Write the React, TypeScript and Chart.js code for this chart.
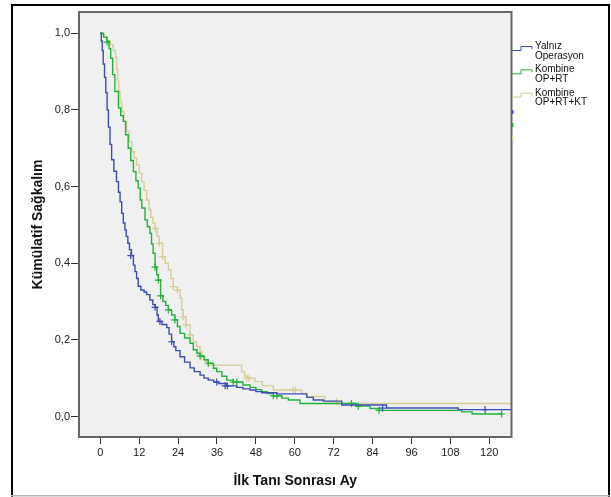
import React, { useEffect, useRef } from 'react';
import { Chart, registerables } from 'chart.js';

Chart.register(...registerables);

// ---- data ----
const X_TICKS = [0, 12, 24, 36, 48, 60, 72, 84, 96, 108, 120];
const Y_TICKS = [0, 0.2, 0.4, 0.6, 0.8, 1.0];
const X_TITLE = 'İlk Tanı Sonrası Ay';
const Y_TITLE = 'Kümülatif Sağkalım';
const SERIES_NAMES = [
  ['Yalnız', 'Operasyon'],
  ['Kombine', 'OP+RT'],
  ['Kombine', 'OP+RT+KT'],
];
const SERIES_COLORS = ['#3b4db5', '#22b23a', '#d6cd97'];

// [month, cumulative survival]
const BLUE_CURVE: [number, number][] = [
  [0, 1], [0.3, 0.98], [0.6, 0.955], [0.9, 0.92], [1.3, 0.885], [1.7, 0.845], [2.1, 0.8], [2.5, 0.755],
  [3.0, 0.71], [3.5, 0.67], [4.2, 0.64], [5.0, 0.613], [5.6, 0.585], [6.1, 0.56], [6.6, 0.53], [7.1, 0.505],
  [7.6, 0.487], [8.0, 0.47], [8.5, 0.452], [9.0, 0.435], [9.6, 0.42], [10.2, 0.395], [10.7, 0.378],
  [11.2, 0.36], [11.7, 0.34], [12.5, 0.33], [13.5, 0.325], [14.3, 0.318], [15.3, 0.304], [16.2, 0.292],
  [16.9, 0.285], [17.5, 0.265], [17.9, 0.248], [19.0, 0.24], [20.5, 0.232], [21.2, 0.215], [22.0, 0.195],
  [22.7, 0.182], [23.3, 0.172], [24.6, 0.156], [26.0, 0.142], [27.7, 0.127], [29.0, 0.117], [30.8, 0.108],
  [32.0, 0.1], [33.3, 0.095], [35.0, 0.09], [36.5, 0.086], [39.0, 0.08], [42.1, 0.076], [44.0, 0.072],
  [46.2, 0.069], [48.0, 0.065], [49.8, 0.062], [54.4, 0.059], [63.7, 0.05], [65.7, 0.043], [68.8, 0.04],
  [74.5, 0.03], [88.3, 0.022], [110.4, 0.018], [127, 0.018],
];
const GREEN_CURVE: [number, number][] = [
  [0, 1], [1.0, 0.99], [2.0, 0.979], [2.7, 0.96], [3.2, 0.935], [3.8, 0.892], [4.5, 0.848], [5.6, 0.805],
  [6.3, 0.785], [7.1, 0.77], [7.8, 0.735], [8.6, 0.7], [9.4, 0.668], [10.2, 0.639], [11.0, 0.615],
  [11.7, 0.596], [12.3, 0.565], [12.8, 0.544], [13.8, 0.513], [14.5, 0.495], [15.3, 0.478], [15.8, 0.45],
  [16.3, 0.426], [16.9, 0.39], [17.4, 0.37], [17.9, 0.356], [18.6, 0.315], [19.3, 0.3], [20.2, 0.29],
  [21.0, 0.278], [22.0, 0.265], [23.0, 0.252], [23.8, 0.235], [24.6, 0.217], [26.0, 0.205], [27.7, 0.191],
  [28.7, 0.174], [29.8, 0.165], [30.8, 0.158], [32.0, 0.148], [33.3, 0.139], [34.9, 0.126], [35.9, 0.117],
  [37.5, 0.105], [39.0, 0.095], [41.0, 0.09], [44.0, 0.082], [46.2, 0.076], [48.0, 0.07], [49.8, 0.065],
  [51.5, 0.06], [53.4, 0.054], [56.0, 0.048], [58.0, 0.043], [61.6, 0.034], [79.0, 0.027], [83.2, 0.021],
  [86.0, 0.016], [111.5, 0.012], [114.7, 0.0065], [123.8, 0.0065],
];
const TAN_CURVE: [number, number][] = [
  [0, 1], [0.7, 0.996], [1.4, 0.99], [2.2, 0.98], [3.0, 0.97], [4.0, 0.955], [4.7, 0.938], [5.1, 0.905],
  [5.4, 0.875], [5.7, 0.848], [6.1, 0.82], [6.6, 0.796], [7.3, 0.77], [8.1, 0.744], [8.9, 0.718],
  [9.7, 0.691], [10.5, 0.675], [11.2, 0.657], [12.0, 0.635], [12.8, 0.613], [13.5, 0.59], [14.3, 0.565],
  [15.0, 0.54], [15.6, 0.52], [16.2, 0.505], [16.9, 0.491], [17.5, 0.47], [18.2, 0.452], [19.2, 0.417],
  [20.0, 0.4], [21.0, 0.383], [21.8, 0.36], [22.5, 0.339], [23.8, 0.33], [24.6, 0.31], [25.1, 0.278],
  [25.6, 0.26], [26.4, 0.239], [27.7, 0.213], [28.7, 0.195], [29.7, 0.182], [30.8, 0.17], [31.3, 0.156],
  [32.2, 0.145], [33.3, 0.134], [43.6, 0.117], [44.5, 0.105], [45.2, 0.1], [47.7, 0.091], [50.0, 0.08],
  [53.4, 0.069], [62.1, 0.06], [63.7, 0.052], [69.3, 0.039], [73.4, 0.034], [127, 0.034],
];
// censored observations (+)
const BLUE_CENSOR: [number, number][] = [
  [9.4, 0.42], [16.9, 0.285], [18.4, 0.248], [22.0, 0.195], [35.9, 0.09], [38.5, 0.08], [39.2, 0.08],
  [87.1, 0.022], [118.7, 0.018],
];
const GREEN_CENSOR: [number, number][] = [
  [2.1, 0.977], [16.9, 0.39], [17.9, 0.356], [18.6, 0.315], [21.0, 0.278], [23.0, 0.252], [30.8, 0.158],
  [33.3, 0.139], [41.0, 0.09], [42.1, 0.09], [53.4, 0.054], [54.5, 0.054], [77.5, 0.034], [79.6, 0.027],
  [86.0, 0.016], [123.8, 0.0065],
];
const TAN_CENSOR: [number, number][] = [
  [16.9, 0.491], [18.2, 0.452], [19.2, 0.417], [22.5, 0.339], [23.8, 0.33], [25.6, 0.26], [26.4, 0.239],
  [27.7, 0.213], [31.3, 0.156], [45.2, 0.1], [45.9, 0.1], [59.5, 0.069], [60.2, 0.069], [72.9, 0.039],
];

const FONT = '"Liberation Sans", Arial, Helvetica, sans-serif';

const toXY = (pairs: [number, number][]) => pairs.map(([x, y]) => ({ x, y }));

const mkLine = (pairs: [number, number][], color: string) => ({
  data: toXY(pairs),
  borderColor: color,
  backgroundColor: color,
  borderWidth: 1.4,
  stepped: true as const,
  pointRadius: 0,
  fill: false,
  tension: 0,
});
const mkCensor = (pairs: [number, number][], color: string) => ({
  data: toXY(pairs),
  showLine: false,
  pointStyle: 'cross' as const,
  pointRadius: 3.5,
  pointBorderWidth: 1.2,
  pointBorderColor: color,
  pointBackgroundColor: color,
  borderColor: color,
  backgroundColor: color,
});

const decorPlugin = {
  id: 'decor',
  beforeDraw(chart: any) {
    const { ctx, chartArea: a } = chart;
    ctx.save();
    ctx.fillStyle = '#ffffff';
    ctx.fillRect(0, 0, chart.width, chart.height);
    ctx.fillStyle = '#000000';
    ctx.fillRect(11, 4, 2, 493);
    ctx.fillRect(11, 4, 599, 2);
    ctx.fillRect(608, 4, 2, 493);
    ctx.fillStyle = '#b4b4b4';
    ctx.fillRect(11, 495, 599, 1.5);
    ctx.fillStyle = '#f0f0f0';
    ctx.fillRect(a.left, a.top, a.right - a.left, a.bottom - a.top);
    ctx.restore();
  },
  afterDraw(chart: any) {
    const { ctx, chartArea: a } = chart;
    ctx.save();
    // plot frame
    ctx.strokeStyle = '#666666';
    ctx.lineWidth = 2;
    ctx.strokeRect(a.left, a.top, a.right - a.left, a.bottom - a.top);
    // legend
    const baseX = a.right;
    const step = 23.3;
    ctx.font = `10px ${FONT}`;
    ctx.textBaseline = 'alphabetic';
    ctx.textAlign = 'left';
    SERIES_NAMES.forEach((lines, i) => {
      const b1 = 49 + i * step;
      const hi = b1 - 3;
      const lo = hi + 4;
      ctx.strokeStyle = SERIES_COLORS[i];
      ctx.lineWidth = 1;
      ctx.beginPath();
      ctx.moveTo(baseX + 0.5, lo + 0.5);
      ctx.lineTo(baseX + 9.5, lo + 0.5);
      ctx.lineTo(baseX + 9.5, hi + 0.5);
      ctx.lineTo(baseX + 20.5, hi + 0.5);
      ctx.lineTo(baseX + 20.5, hi + 3);
      ctx.stroke();
      ctx.fillStyle = '#111111';
      ctx.fillText(lines[0], baseX + 23.5, b1);
      ctx.fillText(lines[1], baseX + 23.5, b1 + 9.5);
      // small leftover marks at plot edge
      ctx.fillStyle = SERIES_COLORS[i];
      ctx.fillRect(baseX + 0.5, 110 + i * 13, 1.5, 4);
    });
    ctx.restore();
  },
};

export default function App() {
  const ref = useRef<HTMLCanvasElement>(null);
  useEffect(() => {
    const canvas = ref.current;
    if (!canvas) return;
    const chart = new Chart(canvas, {
      type: 'line',
      data: {
        datasets: [
          mkCensor(BLUE_CENSOR, SERIES_COLORS[0]),
          mkLine(BLUE_CURVE, SERIES_COLORS[0]),
          mkCensor(GREEN_CENSOR, SERIES_COLORS[1]),
          mkLine(GREEN_CURVE, SERIES_COLORS[1]),
          mkCensor(TAN_CENSOR, SERIES_COLORS[2]),
          mkLine(TAN_CURVE, SERIES_COLORS[2]),
        ] as any,
      },
      options: {
        responsive: false,
        animation: false,
        devicePixelRatio: 1,
        layout: { padding: { left: 0, top: 12, right: 99.5, bottom: 0 } },
        plugins: { legend: { display: false }, tooltip: { enabled: false } },
        events: [],
        scales: {
          x: {
            type: 'linear',
            min: -6.57,
            max: 126.85,
            afterBuildTicks: (scale: any) => {
              scale.ticks = X_TICKS.map((v) => ({ value: v }));
            },
            afterFit: (scale: any) => {
              scale.height = 60;
            },
            border: { display: false },
            grid: { drawOnChartArea: false, drawTicks: true, tickLength: 7, color: '#333333', lineWidth: 1 },
            ticks: {
              autoSkip: false,
              maxRotation: 0,
              padding: 2,
              color: '#222222',
              font: { family: FONT, size: 11 },
              callback: (v: any) => String(v),
            },
            title: {
              display: true,
              text: X_TITLE,
              color: '#111111',
              font: { family: FONT, size: 14, weight: 'bold' },
              padding: { top: 0, bottom: 7 },
            },
          },
          y: {
            type: 'linear',
            min: -0.0535,
            max: 1.0555,
            afterBuildTicks: (scale: any) => {
              scale.ticks = Y_TICKS.map((v) => ({ value: v }));
            },
            afterFit: (scale: any) => {
              scale.width = 79;
            },
            border: { display: false },
            grid: { drawOnChartArea: false, drawTicks: true, tickLength: 8, color: '#333333', lineWidth: 1 },
            ticks: {
              padding: 1,
              color: '#222222',
              font: { family: FONT, size: 11 },
              callback: (v: any) => Number(v).toFixed(1).replace('.', ','),
            },
            title: {
              display: true,
              text: Y_TITLE,
              color: '#111111',
              font: { family: FONT, size: 14, weight: 'bold' },
              padding: { top: 29.6, bottom: 0 },
            },
          },
        },
      },
      plugins: [decorPlugin],
    });
    return () => chart.destroy();
  }, []);
  return (
    <div style={{ position: 'absolute', left: 0, top: 0, width: 611, height: 497 }}>
      <canvas ref={ref} width={611} height={497} style={{ display: 'block', width: 611, height: 497 }} />
    </div>
  );
}
